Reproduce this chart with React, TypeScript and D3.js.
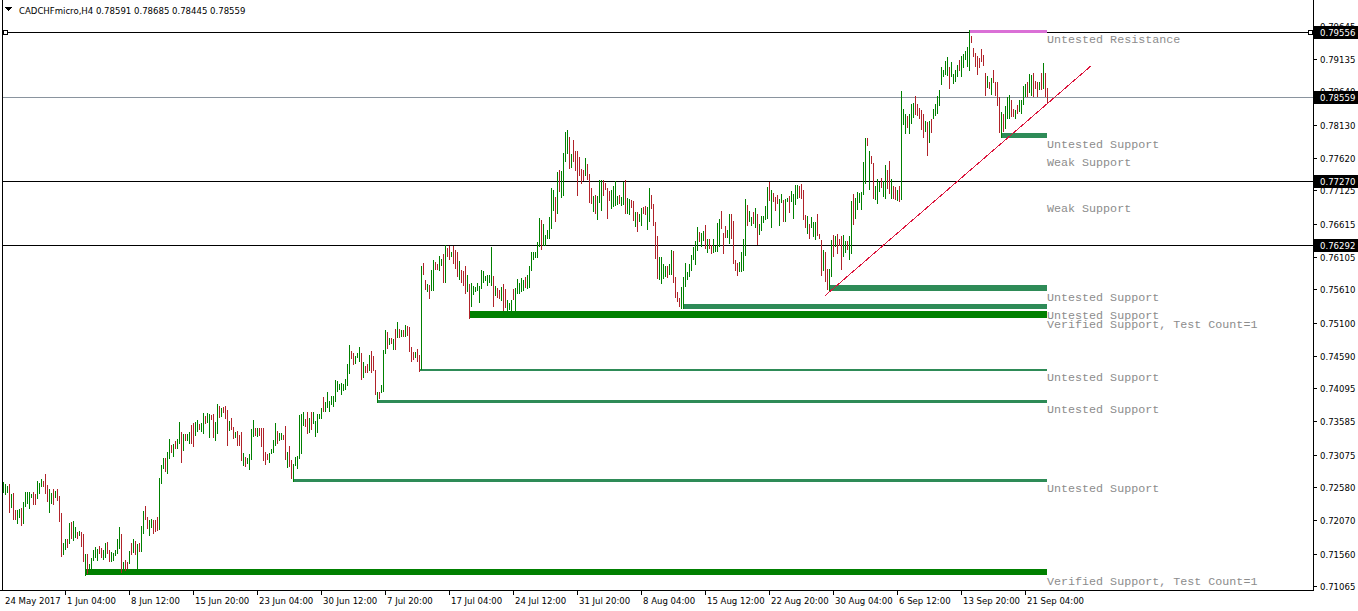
import React from "react";
import * as d3 from "d3";

// Bar data, prices x 10000 (H4 bars, oldest first)
const highs = [
7265,7263,7260,7263,7247,7249,7223,7223,7224,7226,
7235,7250,7250,7250,7247,7250,7247,7267,7264,7271,
7267,7278,7261,7255,7249,7255,7252,7255,7244,7218,
7172,7178,7178,7203,7205,7206,7197,7189,7191,7189,
7186,7156,7156,7140,7149,7162,7166,7163,7168,7165,
7161,7172,7174,7162,7159,7157,7162,7178,7197,7186,
7143,7146,7143,7160,7172,7178,7175,7171,7172,7198,
7221,7229,7212,7208,7209,7207,7208,7212,7272,7292,
7302,7302,7312,7332,7322,7324,7329,7332,7358,7342,
7339,7339,7339,7342,7353,7356,7358,7361,7355,7356,
7371,7367,7371,7370,7368,7370,7358,7385,7382,7379,
7381,7382,7376,7359,7363,7350,7342,7344,7338,7342,
7310,7304,7302,7309,7347,7361,7348,7348,7348,7348,
7348,7312,7309,7310,7316,7330,7356,7344,7341,7341,
7338,7351,7312,7321,7299,7293,7304,7306,7368,7370,
7373,7362,7373,7364,7373,7373,7359,7370,7370,7379,
7396,7388,7403,7390,7397,7397,7422,7420,7416,7417,
7416,7423,7446,7475,7466,7463,7459,7463,7472,7463,
7449,7443,7446,7460,7466,7459,7437,7403,7403,7414,
7468,7498,7495,7486,7486,7485,7500,7511,7500,7498,
7498,7506,7505,7503,7472,7465,7465,7469,7460,7596,
7601,7575,7569,7567,7590,7606,7603,7599,7612,7607,
7615,7629,7624,7627,7618,7627,7621,7618,7604,7590,
7589,7596,7583,7569,7570,7566,7564,7570,7566,7590,
7589,7581,7583,7583,7625,7581,7566,7563,7560,7564,
7569,7561,7544,7540,7544,7561,7563,7576,7570,7578,
7575,7580,7583,7596,7618,7618,7618,7633,7670,7667,
7661,7644,7652,7671,7716,7713,7702,7740,7743,7742,
7769,7802,7805,7794,7768,7789,7773,7773,7763,7745,
7743,7762,7753,7737,7716,7704,7705,7704,7728,7728,
7728,7724,7716,7711,7713,7719,7727,7704,7705,7702,
7725,7728,7701,7699,7697,7696,7679,7679,7676,7685,
7687,7688,7687,7716,7705,7691,7664,7642,7610,7610,
7600,7596,7596,7600,7621,7619,7580,7557,7547,7564,
7580,7601,7587,7600,7613,7626,7635,7656,7648,7647,
7650,7659,7638,7638,7629,7638,7627,7662,7668,7681,
7647,7658,7652,7676,7676,7665,7606,7601,7603,7618,
7638,7699,7690,7681,7671,7679,7685,7676,7661,7673,
7673,7688,7717,7725,7713,7708,7702,7705,7699,7707,
7697,7699,7701,7704,7711,7707,7720,7720,7719,7722,
7713,7674,7673,7661,7671,7664,7664,7676,7645,7636,
7621,7618,7592,7592,7636,7644,7642,7645,7638,7642,
7644,7635,7635,7642,7696,7707,7701,7710,7708,7710,
7756,7792,7792,7772,7765,7754,7719,7730,7725,7731,
7727,7751,7743,7757,7730,7719,7717,7713,7719,7864,
7837,7829,7826,7829,7844,7846,7857,7844,7838,7835,
7829,7818,7817,7818,7821,7837,7844,7857,7866,7901,
7896,7910,7916,7901,7909,7890,7896,7904,7912,7918,
7921,7926,7932,7958,7949,7930,7923,7918,7915,7929,
7919,7892,7887,7878,7884,7896,7878,7878,7855,7832,
7829,7841,7855,7858,7851,7837,7835,7843,7851,7851,
7872,7875,7878,7890,7889,7892,7880,7878,7878,7892,
7907,7892,7869
];

const lows = [
7249,7246,7249,7219,7226,7208,7208,7201,7211,7199,
7201,7228,7232,7224,7241,7231,7231,7240,7247,7258,
7258,7247,7235,7218,7232,7231,7242,7237,7205,7151,
7154,7162,7165,7171,7178,7176,7180,7178,7183,7166,
7143,7122,7125,7130,7133,7145,7149,7145,7156,7149,
7146,7149,7156,7143,7144,7145,7152,7156,7163,7126,
7130,7130,7133,7140,7154,7157,7154,7133,7158,7158,
7186,7207,7194,7183,7196,7186,7189,7191,7192,7262,
7286,7281,7278,7301,7310,7304,7316,7316,7324,7295,
7313,7329,7329,7324,7324,7320,7336,7342,7345,7342,
7339,7355,7356,7333,7361,7333,7328,7339,7364,7365,
7371,7362,7321,7344,7346,7332,7333,7321,7321,7298,
7290,7289,7293,7284,7299,7335,7336,7335,7336,7319,
7298,7292,7299,7295,7308,7310,7321,7324,7328,7330,
7330,7299,7287,7288,7270,7265,7290,7286,7301,7309,
7351,7350,7339,7341,7345,7354,7335,7341,7362,7362,
7373,7373,7379,7373,7384,7381,7388,7403,7407,7399,
7405,7407,7413,7431,7454,7445,7446,7456,7449,7422,
7425,7433,7433,7436,7433,7436,7399,7386,7393,7402,
7403,7462,7469,7475,7477,7468,7468,7486,7486,7488,
7488,7488,7489,7465,7449,7452,7456,7449,7434,7437,
7582,7560,7557,7546,7558,7558,7590,7590,7589,7596,
7570,7570,7610,7606,7610,7599,7592,7579,7575,7570,
7566,7553,7557,7515,7533,7552,7557,7558,7540,7561,
7570,7573,7566,7570,7566,7534,7550,7547,7546,7543,
7528,7532,7528,7529,7528,7544,7528,7554,7554,7557,
7558,7563,7561,7563,7589,7606,7609,7609,7626,7621,
7627,7627,7638,7638,7653,7681,7664,7676,7710,7701,
7704,7756,7768,7745,7746,7756,7742,7704,7734,7722,
7727,7734,7728,7693,7691,7679,7676,7667,7693,7681,
7704,7713,7668,7696,7684,7687,7688,7690,7691,7688,
7690,7676,7676,7675,7685,7665,7656,7649,7664,7658,
7676,7675,7652,7664,7684,7658,7607,7577,7575,7569,
7577,7580,7578,7583,7583,7570,7547,7541,7533,7531,
7530,7564,7575,7580,7589,7606,7598,7619,7633,7626,
7635,7622,7616,7622,7615,7616,7618,7618,7626,7653,
7615,7639,7639,7630,7638,7600,7589,7581,7587,7587,
7589,7612,7658,7664,7658,7661,7655,7629,7644,7650,
7662,7667,7668,7696,7655,7694,7681,7691,7658,7693,
7664,7664,7694,7678,7694,7668,7690,7699,7700,7699,
7667,7655,7645,7638,7655,7641,7636,7642,7638,7581,
7589,7572,7560,7559,7580,7610,7626,7615,7627,7590,
7610,7616,7621,7606,7615,7659,7668,7682,7693,7683,
7705,7722,7780,7713,7752,7699,7697,7691,7710,7716,
7702,7699,7714,7707,7699,7699,7697,7696,7694,7697,
7812,7799,7808,7799,7814,7823,7828,7826,7822,7805,
7792,7802,7765,7785,7800,7821,7826,7829,7841,7874,
7886,7889,7887,7867,7886,7875,7878,7886,7895,7886,
7900,7912,7901,7895,7938,7916,7901,7889,7900,7909,
7903,7857,7869,7867,7858,7877,7857,7841,7800,7792,
7802,7806,7822,7822,7825,7825,7822,7829,7832,7829,
7843,7855,7855,7861,7857,7855,7867,7855,7866,7866,
7867,7855,7844
];

// G = bullish bar, R = bearish bar
const barDirections = (
  "GGGRGRRGGR" + "GGGGGRRGGG" + "RRRGGRGRRR" + "GGRGRGGRGR" + "RGRGGGGGRR" +
  "GGRRGGGGGR" + "GRRGRGRGRG" + "GRRGGRRRGG" + "GRGGRGRGGR" + "GRGGRRGGRG" +
  "GRGGRRGGRG" + "RRRGRRGRRR" + "GRGGGGRGRR" + "RRRGGGGRGG" + "RRGRRGGGGG" +
  "GRRGRGGGGG" + "RGGGGGGGGG" + "GGGGRRGGGR" + "GRRGRRRGRG" + "GGRGRGRGRG" +
  "RGRRRRGRRG" + "RRGRGGRRGG" + "RGRRGRRRGR" + "RRGRGGGGGG" + "GGGGGRGRRG" +
  "RRGGGRGGGG" + "GRGGGGGGGR" + "GGGGGGRGRG" + "GGGRGRRRRR" + "RGRRRGRGGG" +
  "RRRRGGGGRG" + "GRGGRRGRGG" + "RRGGRRRRGG" + "GGRGGRRRRG" + "GGGGGGGGRG" +
  "GRGRRGGGGR" + "RRGGRRRRGG" + "GGRGGRGRGG" + "GGGRGRRRGG" + "RGGRGGGGRR" +
  "RRGRGGGRRR" + "GRRGGRGRRR" + "GGRGGRGGGG" + "GGRGRRGGGR" + "GGRRGRRGRG" +
  "GGRGGGRRRR" + "RGRGRGGGGG" + "GGGRGGGGRG" + "GGGGRRRRRR" + "RRGRGRRRRG" +
  "RGGGRRGRGG" + "GGRGGRRRGR" + "GRR"
).split("");

const priceTicks = [0.79645, 0.79135, 0.7864, 0.7813, 0.7762, 0.77125, 0.76615, 0.76105, 0.7561, 0.751, 0.7459, 0.74095, 0.73585, 0.73075, 0.7258, 0.7207, 0.7156, 0.71065];

const timeLabels = ["24 May 2017", "1 Jun 04:00", "8 Jun 12:00", "15 Jun 20:00", "23 Jun 04:00", "30 Jun 12:00", "7 Jul 20:00", "17 Jul 04:00", "24 Jul 12:00", "31 Jul 20:00", "8 Aug 04:00", "15 Aug 12:00", "22 Aug 20:00", "30 Aug 04:00", "6 Sep 12:00", "13 Sep 20:00", "21 Sep 04:00"];
const timeLabelBars = [0, 31, 63, 95, 127, 159, 191, 223, 255, 287, 319, 351, 383, 415, 447, 479, 511];

const horizontalLines = [0.79556, 0.7727, 0.76292];
const bidPrice = 0.78559;

const zoneLabels = ["Untested Resistance", "Untested Support", "Untested Support", "Untested Support", "Verified Support, Test Count=1", "Untested Support", "Untested Support", "Untested Support", "Verified Support, Test Count=1"];
const zoneKinds = ["resistance", "untested", "untested", "untested", "verified", "untested", "untested", "untested", "verified"];
const zoneHigh = [0.7958, 0.78, 0.7567, 0.7538, 0.7528, 0.7439, 0.7392, 0.7271, 0.7133];
const zoneLow = [0.7953, 0.7792, 0.7558, 0.7531, 0.7517, 0.7436, 0.7387, 0.7265, 0.7123];
const zoneStartBar = [483, 499, 413, 340, 233, 208, 187, 145, 41];

const weakLabels = ["Weak Support", "Weak Support"];
const weakLabelPrices = [0.7765, 0.7694];

const trendBars = [411, 544];
const trendPrices = [0.7551, 0.7903];

const title = "CADCHFmicro,H4  0.78591 0.78685 0.78445 0.78559";

const zoneColors: Record<string, string> = {
  resistance: "#da70d6",
  untested: "#2e8b57",
  verified: "#008000",
};

const axisFont = "'DejaVu Sans Condensed', 'DejaVu Sans', sans-serif";
const monoFont = "'Liberation Mono', 'Courier New', monospace";

export default function App() {
  const W = 1358;
  const H = 611;
  const axisX = 1313;
  const axisY = 590;
  const n = highs.length;
  const xs = d3.scaleLinear().domain([0, n - 1]).range([3, 3 + 2 * (n - 1)]);
  const ys = d3.scaleLinear().domain([0.71065, 0.79135]).range([586, 59]);
  const lastBar = n - 1;
  const zoneEndX = Math.round(xs(lastBar));

  const bars = d3.range(n).map((i) => {
    const yTop = Math.round(ys(highs[i] / 10000));
    const yBot = Math.round(ys(lows[i] / 10000));
    return (
      <rect
        key={"b" + i}
        x={Math.round(xs(i))}
        y={yTop}
        width={1}
        height={Math.max(1, yBot - yTop)}
        fill={barDirections[i] === "G" ? "#008000" : "#b0232a"}
      />
    );
  });

  const line = d3.line<[number, number]>();
  const trendPath = line([
    [xs(trendBars[0]), ys(trendPrices[0])],
    [xs(trendBars[1]), ys(trendPrices[1])],
  ]) as string;

  return (
    <svg
      width={W}
      height={H}
      style={{ position: "absolute", left: 0, top: 0, display: "block", background: "#fff" }}
      shapeRendering="crispEdges"
    >
      <rect x={0} y={0} width={W} height={H} fill="#fff" />

      {/* horizontal lines */}
      {horizontalLines.map((p, i) => {
        const y = Math.round(ys(p)) + 0.5;
        return <line key={"h" + i} x1={3} x2={axisX} y1={y} y2={y} stroke="#000" strokeWidth={1} />;
      })}
      <line x1={3} x2={axisX} y1={Math.round(ys(bidPrice)) + 0.5} y2={Math.round(ys(bidPrice)) + 0.5} stroke="#8a949e" strokeWidth={1} />
      {/* selection handles on first line */}
      <rect x={3.5} y={Math.round(ys(horizontalLines[0])) - 2 + 0.5} width={4} height={4} fill="#fff" stroke="#000" />
      <rect x={1308.5} y={Math.round(ys(horizontalLines[0])) - 2 + 0.5} width={4} height={4} fill="#fff" stroke="#000" />

      {/* zones */}
      {zoneLabels.map((lab, i) => {
        const yT = Math.round(ys(zoneHigh[i]));
        const yB = Math.round(ys(zoneLow[i]));
        const x0 = Math.round(xs(zoneStartBar[i]));
        return (
          <g key={"z" + i}>
            <rect x={x0} y={yT} width={zoneEndX - x0} height={Math.max(2, yB - yT)} fill={zoneColors[zoneKinds[i]]} />
            <text x={zoneEndX} y={yB + 10} fontFamily={monoFont} fontSize={11.7} fill="#8c8c8c" shapeRendering="auto">
              {lab}
            </text>
          </g>
        );
      })}
      {weakLabels.map((lab, i) => (
        <text key={"w" + i} x={zoneEndX} y={Math.round(ys(weakLabelPrices[i])) + 10} fontFamily={monoFont} fontSize={11.7} fill="#8c8c8c">
          {lab}
        </text>
      ))}

      {/* bars */}
      <g>{bars}</g>

      {/* trend line */}
      <path d={trendPath} stroke="#dc143c" strokeWidth={1} fill="none" shapeRendering="crispEdges" />

      {/* frame / axes */}
      <line x1={2.5} x2={2.5} y1={0} y2={axisY} stroke="#000" />
      <line x1={axisX + 0.5} x2={axisX + 0.5} y1={0} y2={axisY + 1} stroke="#000" />
      <line x1={0} x2={axisX + 1} y1={axisY + 0.5} y2={axisY + 0.5} stroke="#000" />

      {/* price ticks */}
      {priceTicks.map((t, i) => {
        const y = Math.round(ys(t)) + 0.5;
        return (
          <g key={"pt" + i}>
            <line x1={axisX} x2={axisX + 4} y1={y} y2={y} stroke="#000" />
            <text x={1320} y={y + 3.5} fontFamily={axisFont} fontSize={9.5} fill="#000">
              {t.toFixed(5)}
            </text>
          </g>
        );
      })}

      {/* price label boxes */}
      {[horizontalLines[0], bidPrice, horizontalLines[1], horizontalLines[2]].map((p, i) => {
        const y = Math.round(ys(p));
        return (
          <g key={"pb" + i}>
            <rect x={axisX + 1} y={y - 6} width={W - axisX - 1} height={13} fill="#000" />
            <text x={1320} y={y + 4} fontFamily={axisFont} fontSize={9.5} fill="#fff">
              {p.toFixed(5)}
            </text>
          </g>
        );
      })}

      {/* time axis */}
      {timeLabels.map((lab, i) => {
        const x = Math.round(xs(timeLabelBars[i]));
        return (
          <g key={"tl" + i}>
            {i > 0 && <line x1={x + 0.5} x2={x + 0.5} y1={axisY} y2={axisY + 5} stroke="#000" />}
            <text x={x + 2} y={604} fontFamily={axisFont} fontSize={9.5} fill="#000">
              {lab}
            </text>
          </g>
        );
      })}

      {/* title */}
      <polygon points="5,7 12,7 8.5,11" fill="#000" />
      <text x={19} y={14} fontFamily={axisFont} fontSize={9.5} fill="#000">
        {title}
      </text>
    </svg>
  );
}
